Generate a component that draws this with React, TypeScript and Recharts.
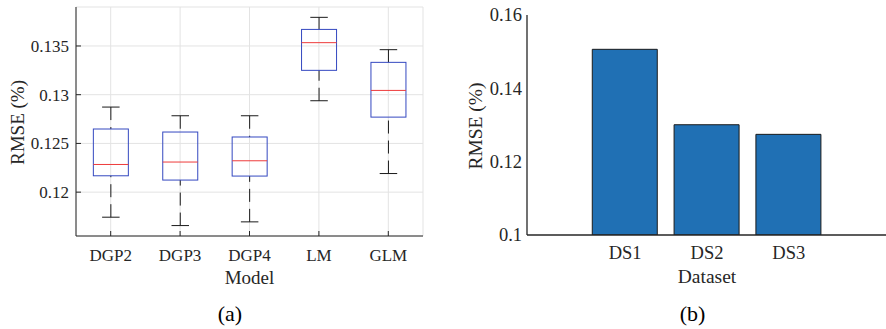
import React from 'react';
import { ComposedChart, BarChart, Bar, XAxis, YAxis, CartesianGrid } from 'recharts';

// ---------- Data: panel (a) box plots ----------
const models = ['DGP2', 'DGP3', 'DGP4', 'LM', 'GLM'];
const whiskerLow = [0.11743, 0.11657, 0.11695, 0.12938, 0.12191];
const quartile1 = [0.12168, 0.12124, 0.12165, 0.1325, 0.1277];
const medians = [0.12284, 0.12309, 0.12322, 0.13534, 0.13044];
const quartile3 = [0.12648, 0.12617, 0.12566, 0.1367, 0.13332];
const whiskerHigh = [0.12873, 0.12784, 0.12784, 0.13794, 0.13462];
const leftTicks = [0.12, 0.125, 0.13, 0.135];
const leftTickLabels = ['0.12', '0.125', '0.13', '0.135'];
const leftDomain = [0.1155, 0.139];

// ---------- Data: panel (b) bars ----------
const datasets = ['DS1', 'DS2', 'DS3'];
const datasetPos = [1, 2, 3];
const datasetRmse = [0.15064, 0.13007, 0.12745];
const rightTicks = [0.1, 0.12, 0.14, 0.16];
const rightTickLabels = ['0.1', '0.12', '0.14', '0.16'];
const rightXDomain = [-0.2, 4.2];
const rightYDomain = [0.1, 0.16];

const boxData = models.map((name, i) => ({
  name,
  lo: whiskerLow[i],
  q1: quartile1[i],
  med: medians[i],
  q3: quartile3[i],
  hi: whiskerHigh[i],
}));
const barData = datasets.map((name, i) => ({ name, pos: datasetPos[i], rmse: datasetRmse[i] }));

const FONT = "'Liberation Serif', 'DejaVu Serif', serif";
const TXT = '#262626';
const AX = '#262626';
const TICK_LEN = 5;
const txtStyle = (size: number, color: string = TXT): React.CSSProperties => ({ fontFamily: FONT, fontSize: size, fill: color });

// ---------- Panel (a) ----------
const L_TM_Y = 7;
const L_TM_X = 12.5;

const BoxShape = (props: any) => {
  const { x, y, width, height, payload } = props;
  const top = Math.min(y, y + height);
  const h = Math.abs(height);
  const k = h / (payload.q3 - payload.q1);
  const py = (v: number) => top + (payload.q3 - v) * k;
  const cx = x + width / 2;
  const cap = width / 4;
  return (
    <g>
      <line x1={cx} x2={cx} y1={py(payload.hi)} y2={top} stroke="#1a1a1a" strokeWidth={1} strokeDasharray="13 7" />
      <line x1={cx} x2={cx} y1={py(payload.lo)} y2={top + h} stroke="#1a1a1a" strokeWidth={1} strokeDasharray="13 7" />
      <line x1={cx - cap} x2={cx + cap} y1={py(payload.hi)} y2={py(payload.hi)} stroke="#1a1a1a" strokeWidth={1} />
      <line x1={cx - cap} x2={cx + cap} y1={py(payload.lo)} y2={py(payload.lo)} stroke="#1a1a1a" strokeWidth={1} />
      <rect x={x} y={top} width={width} height={h} fill="none" stroke="#3448c0" strokeWidth={1} />
      <line x1={x} x2={x + width} y1={py(payload.med)} y2={py(payload.med)} stroke="#ee3b3b" strokeWidth={1} />
    </g>
  );
};

const LeftYTick = (props: any) => {
  const { x, y, payload } = props;
  const idx = leftTicks.indexOf(payload.value);
  const label = idx >= 0 ? leftTickLabels[idx] : String(payload.value);
  return (
    <g>
      <line x1={x + L_TM_Y} x2={x + L_TM_Y + TICK_LEN} y1={y} y2={y} stroke={AX} />
      <text x={x} y={y} dy="0.35em" textAnchor="end" style={txtStyle(17)}>{label}</text>
    </g>
  );
};

const LeftXTick = (props: any) => {
  const { x, y, payload } = props;
  return (
    <g>
      <line x1={x} x2={x} y1={y - L_TM_X} y2={y - L_TM_X - TICK_LEN} stroke={AX} />
      <text x={x} y={y} dy="0.71em" textAnchor="middle" style={txtStyle(17)}>{payload.value}</text>
    </g>
  );
};

const LeftYTitle = (props: any) => {
  const vb = props.viewBox || { x: 0, y: 7, width: 76, height: 229 };
  const cx = vb.x + 17;
  const cy = vb.y + vb.height / 2 + 1;
  return (
    <text x={cx} y={cy} transform={`rotate(-90 ${cx} ${cy})`} textAnchor="middle" dominantBaseline="central" style={txtStyle(19)}>RMSE (%)</text>
  );
};

const LeftXTitle = (props: any) => {
  const vb = props.viewBox || { x: 76, y: 236, width: 347, height: 93 };
  const cx = vb.x + vb.width / 2;
  return (
    <g>
      <text x={cx} y={vb.y + 48} textAnchor="middle" style={txtStyle(19)}>Model</text>
      <text x={cx - 19.5} y={vb.y + 85} textAnchor="middle" style={txtStyle(22, '#000')}>(a)</text>
    </g>
  );
};

// ---------- Panel (b) ----------
const R_TM_Y = 5;
const R_TM_X = 11;

const RightYTick = (props: any) => {
  const { x, y, payload } = props;
  const idx = rightTicks.indexOf(payload.value);
  const label = idx >= 0 ? rightTickLabels[idx] : String(payload.value);
  return (
    <text x={x} y={y} dy="0.35em" textAnchor="end" style={txtStyle(18.5)}>{label}</text>
  );
};

const RightXTick = (props: any) => {
  const { x, y, payload } = props;
  const idx = datasetPos.indexOf(payload.value);
  const label = idx >= 0 ? datasets[idx] : String(payload.value);
  return (
    <text x={x} y={y} dy="0.71em" textAnchor="middle" style={txtStyle(18.5)}>{label}</text>
  );
};

const RightYTitle = (props: any) => {
  const vb = props.viewBox || { x: 0, y: 15, width: 82, height: 220 };
  const cx = vb.x + 30;
  const cy = vb.y + vb.height / 2 + 1;
  return (
    <text x={cx} y={cy} transform={`rotate(-90 ${cx} ${cy})`} textAnchor="middle" dominantBaseline="central" style={txtStyle(19.5)}>RMSE (%)</text>
  );
};

const RightXTitle = (props: any) => {
  const vb = props.viewBox || { x: 82, y: 235, width: 360, height: 94 };
  const cx = vb.x + vb.width / 2;
  return (
    <g>
      <text x={cx} y={vb.y + 47.7} textAnchor="middle" style={txtStyle(19.5)}>Dataset</text>
      <text x={cx - 14.5} y={vb.y + 86} textAnchor="middle" style={txtStyle(22, '#000')}>(b)</text>
    </g>
  );
};

export default function App() {
  return (
    <div style={{ position: 'absolute', left: 0, top: 0, width: 886, height: 329, overflow: 'hidden', background: '#fff', fontFamily: FONT }}>
      <div style={{ position: 'absolute', left: 0, top: 0 }}>
        <ComposedChart width={445} height={329} data={boxData} margin={{ top: 7, right: 22, left: 0, bottom: 0 }} barCategoryGap="25%">
          <CartesianGrid xAxisId="b" yAxisId="l" stroke="#e3e3e3" vertical horizontal />
          <XAxis
            xAxisId="b"
            dataKey="name"
            type="category"
            height={93}
            axisLine={{ stroke: AX }}
            tickLine={false}
            tickSize={0}
            tickMargin={L_TM_X}
            tick={<LeftXTick />}
            interval={0}
            label={<LeftXTitle />}
          />
          <XAxis xAxisId="t" dataKey="name" type="category" orientation="top" height={0} mirror tick={false} tickSize={TICK_LEN} axisLine={{ stroke: AX }} tickLine={{ stroke: AX }} interval={0} />
          <YAxis
            yAxisId="l"
            type="number"
            width={76}
            domain={leftDomain}
            ticks={leftTicks}
            allowDataOverflow
            axisLine={{ stroke: AX }}
            tickLine={false}
            tickSize={0}
            tickMargin={L_TM_Y}
            tick={<LeftYTick />}
            interval={0}
            label={<LeftYTitle />}
          />
          <YAxis yAxisId="r" type="number" orientation="right" width={0} domain={leftDomain} ticks={leftTicks} allowDataOverflow mirror tick={false} tickSize={TICK_LEN} axisLine={{ stroke: AX }} tickLine={{ stroke: AX }} interval={0} />
          <Bar xAxisId="b" yAxisId="l" dataKey={(d: any) => [d.q1, d.q3]} shape={<BoxShape />} isAnimationActive={false} />
        </ComposedChart>
      </div>
      <div style={{ position: 'absolute', left: 445, top: 0 }}>
        <BarChart width={443} height={329} data={barData} margin={{ top: 15, right: 1, left: 0, bottom: 0 }}>
          <XAxis
            xAxisId="b"
            dataKey="pos"
            type="number"
            domain={rightXDomain}
            ticks={datasetPos}
            allowDataOverflow
            height={94}
            axisLine={{ stroke: AX, strokeWidth: 1.3 }}
            tickLine={false}
            tickSize={0}
            tickMargin={R_TM_X}
            tick={<RightXTick />}
            interval={0}
            label={<RightXTitle />}
          />
          <XAxis xAxisId="t" dataKey="pos" type="number" domain={rightXDomain} ticks={datasetPos} allowDataOverflow orientation="top" height={0} mirror tick={false} tickSize={TICK_LEN} axisLine={{ stroke: AX, strokeWidth: 1.3 }} tickLine={{ stroke: AX }} interval={0} />
          <YAxis
            yAxisId="l"
            type="number"
            width={82}
            domain={rightYDomain}
            ticks={rightTicks}
            allowDataOverflow
            axisLine={{ stroke: AX, strokeWidth: 1.3 }}
            tickLine={false}
            tickSize={0}
            tickMargin={R_TM_Y}
            tick={<RightYTick />}
            interval={0}
            label={<RightYTitle />}
          />
          <YAxis yAxisId="r" type="number" orientation="right" width={0} domain={rightYDomain} ticks={rightTicks} allowDataOverflow mirror tick={false} tickSize={TICK_LEN} axisLine={{ stroke: AX, strokeWidth: 1.3 }} tickLine={{ stroke: AX }} interval={0} />
          <Bar xAxisId="b" yAxisId="l" dataKey="rmse" barSize={65} fill="#2070b4" stroke="#1a1a1a" strokeWidth={1} isAnimationActive={false} />
        </BarChart>
      </div>
    </div>
  );
}
